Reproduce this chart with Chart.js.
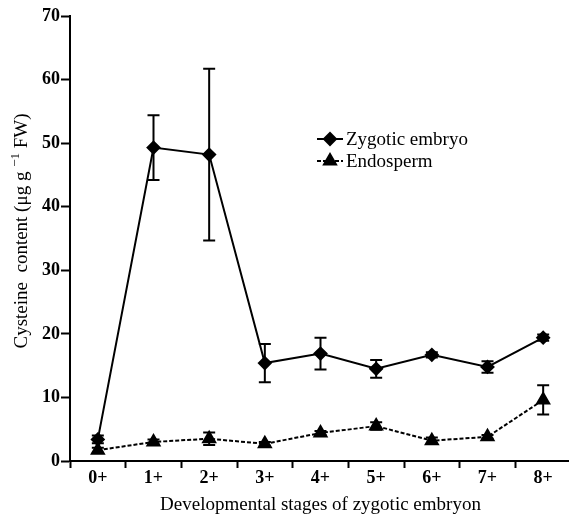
<!DOCTYPE html>
<html>
<head>
<meta charset="utf-8">
<script src="https://cdn.jsdelivr.net/npm/chart.js@4"></script>
<style>
  html, body { margin: 0; padding: 0; background: #fff; overflow: hidden; }
</style>
</head>
<body>
<canvas id="grafico" width="580" height="516"></canvas>
<script>
const stages = ["0+", "1+", "2+", "3+", "4+", "5+", "6+", "7+", "8+"];
const embryo = [3.4, 49.3, 48.2, 15.4, 16.9, 14.5, 16.7, 14.8, 19.4];
const embryoErr = [0.6, 5.1, 13.5, 3.0, 2.5, 1.4, 0.4, 0.9, 0.5];
const endosperm = [1.7, 3.0, 3.5, 2.7, 4.4, 5.5, 3.2, 3.8, 9.6];
const endospermErr = [0.4, 0.4, 1.0, 0.3, 0.3, 0.6, 0.5, 0.3, 2.3];
const yTicks = [0, 10, 20, 30, 40, 50, 60, 70];

const serif = "'Liberation Serif', 'Times New Roman', serif";
const canvas = document.querySelector("#grafico");

// vertical error bars with caps, from the err arrays
const errorBars = {
  id: "errorBars",
  afterDatasetsDraw(chart) {
    const ctx = chart.ctx;
    const y = chart.scales.y;
    ctx.save();
    ctx.strokeStyle = "#000";
    ctx.lineWidth = 2;
    chart.data.datasets.forEach((ds, i) => {
      const meta = chart.getDatasetMeta(i);
      meta.data.forEach((pt, j) => {
        const e = ds.err[j];
        const top = y.getPixelForValue(ds.data[j] + e);
        const bot = y.getPixelForValue(ds.data[j] - e);
        ctx.beginPath();
        ctx.moveTo(pt.x, top); ctx.lineTo(pt.x, bot);
        ctx.moveTo(pt.x - 6, top); ctx.lineTo(pt.x + 6, top);
        ctx.moveTo(pt.x - 6, bot); ctx.lineTo(pt.x + 6, bot);
        ctx.stroke();
      });
    });
    ctx.restore();
  }
};

// legend with line sample + marker, and the y title with its superscript
const extras = {
  id: "extras",
  afterDraw(chart) {
    const ctx = chart.ctx;
    ctx.save();
    chart.data.datasets.forEach((ds, i) => {
      const ly = 139 + i * 22;
      ctx.strokeStyle = "#000";
      ctx.lineWidth = 2;
      ctx.setLineDash(ds.borderDash || []);
      ctx.beginPath();
      ctx.moveTo(317, ly); ctx.lineTo(343, ly);
      ctx.stroke();
      ctx.setLineDash([]);
      Chart.helpers.drawPoint(ctx, {pointStyle: ds.pointStyle, radius: ds.pointRadius, borderWidth: 1}, 330, ly);
      ctx.fillStyle = "#000";
      ctx.fill();
      ctx.font = "19px " + serif;
      ctx.textBaseline = "middle";
      ctx.textAlign = "left";
      ctx.fillText(ds.label, 346, ly + 1);
    });

    ctx.translate(20, 231);
    ctx.rotate(-Math.PI / 2);
    ctx.fillStyle = "#000";
    ctx.textBaseline = "alphabetic";
    const big = "19px " + serif, small = "13px " + serif;
    const parts = [["Cysteine  content (\u03BCg g ", big, 7], ["\u22121", small, -1], [" FW)", big, 7]];
    let w = 0;
    parts.forEach(p => { ctx.font = p[1]; w += ctx.measureText(p[0]).width; });
    let x = -w / 2;
    parts.forEach(p => {
      ctx.font = p[1];
      ctx.fillText(p[0], x, p[2]);
      x += ctx.measureText(p[0]).width;
    });
    ctx.restore();
  }
};

const config = {
  type: "line",
  data: {
    labels: stages,
    datasets: [{
      label: "Zygotic embryo",
      data: embryo,
      err: embryoErr,
      borderColor: "#000",
      backgroundColor: "#000",
      borderWidth: 2,
      pointStyle: "rectRot",
      pointRadius: 6,
      tension: 0
    }, {
      label: "Endosperm",
      data: endosperm,
      err: endospermErr,
      borderColor: "#000",
      backgroundColor: "#000",
      borderWidth: 2,
      borderDash: [4, 2],
      pointStyle: "triangle",
      pointRadius: 7,
      tension: 0
    }]
  },
  options: {
    responsive: false,
    animation: false,
    devicePixelRatio: 1,
    layout: { padding: { top: 16, right: 7, bottom: 0, left: 0 } },
    plugins: { legend: { display: false }, tooltip: { enabled: false } },
    scales: {
      x: {
        type: "category",
        offset: true,
        afterFit: (s) => { s.height = 55; },
        border: { color: "#000", width: 2 },
        grid: { offset: true, drawOnChartArea: false, tickLength: 7, tickWidth: 2, tickColor: "#000" },
        ticks: { color: "#000", padding: 0, font: { family: serif, size: 18, weight: "bold" } },
        title: {
          display: true,
          text: "Developmental stages of zygotic embryon",
          color: "#000",
          padding: 0,
          font: { family: serif, size: 19 }
        }
      },
      y: {
        min: 0,
        max: 70,
        afterFit: (s) => { s.width = 70; },
        afterBuildTicks: (s) => { s.ticks = yTicks.map(v => ({ value: v })); },
        border: { color: "#000", width: 2 },
        grid: { drawOnChartArea: false, tickLength: 9, tickWidth: 2, tickColor: "#000" },
        ticks: { color: "#000", padding: 1, font: { family: serif, size: 18, weight: "bold" } }
      }
    }
  },
  plugins: [errorBars, extras]
};

const myChart = new Chart(canvas, config);
</script>
</body>
</html>
